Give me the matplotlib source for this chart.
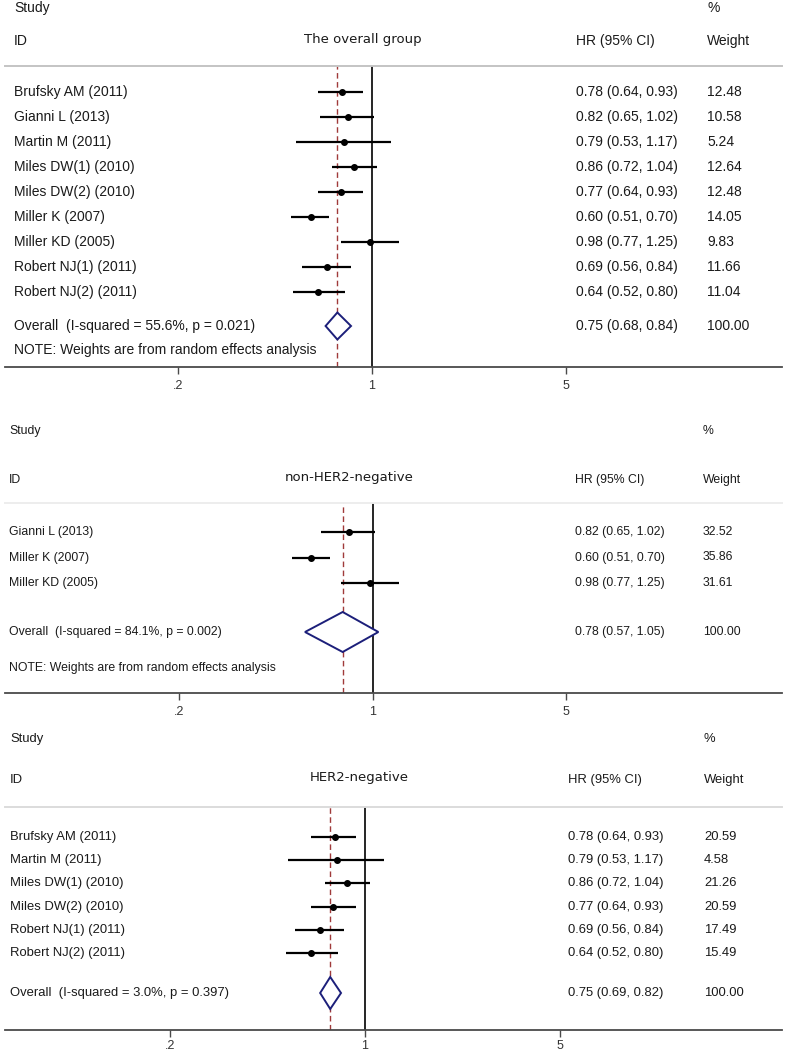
import numpy as np
import matplotlib.pyplot as plt

plt.rcParams['font.family'] = ['Liberation Sans', 'DejaVu Sans']

# ---- data: the overall group
all_studies = ['Brufsky AM (2011)', 'Gianni L (2013)', 'Martin M (2011)',
               'Miles DW(1) (2010)', 'Miles DW(2) (2010)', 'Miller K (2007)',
               'Miller KD (2005)', 'Robert NJ(1) (2011)', 'Robert NJ(2) (2011)']
all_hr = [0.78, 0.82, 0.79, 0.86, 0.77, 0.60, 0.98, 0.69, 0.64]
all_lo = [0.64, 0.65, 0.53, 0.72, 0.64, 0.51, 0.77, 0.56, 0.52]
all_hi = [0.93, 1.02, 1.17, 1.04, 0.93, 0.70, 1.25, 0.84, 0.80]
all_wt = [12.48, 10.58, 5.24, 12.64, 12.48, 14.05, 9.83, 11.66, 11.04]
all_pool = [0.75, 0.68, 0.84]
all_i2 = 55.6
all_p = 0.021

# ---- data: non-HER2-negative
non_studies = ['Gianni L (2013)', 'Miller K (2007)', 'Miller KD (2005)']
non_hr = [0.82, 0.60, 0.98]
non_lo = [0.65, 0.51, 0.77]
non_hi = [1.02, 0.70, 1.25]
non_wt = [32.52, 35.86, 31.61]
non_pool = [0.78, 0.57, 1.05]
non_i2 = 84.1
non_p = 0.002

# ---- data: HER2-negative
neg_studies = ['Brufsky AM (2011)', 'Martin M (2011)', 'Miles DW(1) (2010)',
               'Miles DW(2) (2010)', 'Robert NJ(1) (2011)', 'Robert NJ(2) (2011)']
neg_hr = [0.78, 0.79, 0.86, 0.77, 0.69, 0.64]
neg_lo = [0.64, 0.53, 0.72, 0.64, 0.56, 0.52]
neg_hi = [0.93, 1.17, 1.04, 0.93, 0.84, 0.80]
neg_wt = [20.59, 4.58, 21.26, 20.59, 17.49, 15.49]
neg_pool = [0.75, 0.69, 0.82]
neg_i2 = 3.0
neg_p = 0.397

tick_vals = [0.2, 1, 5]
tick_labels = ['.2', '1', '5']

W, H = 787, 1053
navy = '#1c1f7a'
red = '#a03a3a'
txt = '#1a1a1a'

panels = [
    dict(title='The overall group', studies=all_studies, hr=all_hr, lo=all_lo, hi=all_hi,
         wt=all_wt, pool=all_pool, i2=all_i2, p=all_p,
         fs=10, tfs=9.5, title_x=363, study_y=8, id_y=41, sep=66, axis=367,
         row0=92, step=25, over_y=326, note_y=350, x_lab=14, x_hr=576, x_wt=707,
         null_x=372, dec=277.2, dh=13.5, sep_col='#c4c4c4', pad=4.5),
    dict(title='non-HER2-negative', studies=non_studies, hr=non_hr, lo=non_lo, hi=non_hi,
         wt=non_wt, pool=non_pool, i2=non_i2, p=non_p,
         fs=8.8, tfs=9.5, title_x=349.5, study_y=431, id_y=480, sep=503, axis=693,
         row0=532, step=25.5, over_y=632, note_y=668, x_lab=9, x_hr=575, x_wt=703,
         null_x=372.5, dec=276.5, dh=20, sep_col='#ededed', pad=4.5),
    dict(title='HER2-negative', studies=neg_studies, hr=neg_hr, lo=neg_lo, hi=neg_hi,
         wt=neg_wt, pool=neg_pool, i2=neg_i2, p=neg_p,
         fs=9.4, tfs=9.5, title_x=359.5, study_y=739, id_y=780, sep=807, axis=1030,
         row0=837, step=23.2, over_y=993, note_y=None, x_lab=10, x_hr=568.5, x_wt=704,
         null_x=365, dec=278.3, dh=16, sep_col='#dcdcdc', pad=2),
]

fig = plt.figure(figsize=(W / 100, H / 100), dpi=100)
fig.patch.set_facecolor('white')

# text overlay in pixel coordinates
tx = fig.add_axes([0, 0, 1, 1], zorder=0)
tx.set_xlim(0, W)
tx.set_ylim(H, 0)
tx.axis('off')

for pn in panels:
    fs = pn['fs']
    kw = dict(fontsize=fs, color=txt, va='center', ha='left')
    tx.text(pn['x_lab'], pn['study_y'], 'Study', **kw)
    tx.text(pn['x_wt'], pn['study_y'], '%', **kw)
    tx.text(pn['x_lab'], pn['id_y'], 'ID', **kw)
    tx.text(pn['x_hr'], pn['id_y'], 'HR (95% CI)', **kw)
    tx.text(pn['x_wt'], pn['id_y'], 'Weight', **kw)
    tx.text(pn['title_x'], pn['id_y'] - 2, pn['title'], fontsize=pn['tfs'],
            family='DejaVu Sans', color=txt, ha='center', va='center')

    rows = [pn['row0'] + i * pn['step'] for i in range(len(pn['studies']))]
    for y, s, h, l, u, w in zip(rows, pn['studies'], pn['hr'], pn['lo'], pn['hi'], pn['wt']):
        tx.text(pn['x_lab'], y, s, **kw)
        tx.text(pn['x_hr'], y, f'{h:.2f} ({l:.2f}, {u:.2f})', **kw)
        tx.text(pn['x_wt'], y, f'{w:.2f}', **kw)
    ph, pl, pu = pn['pool']
    tx.text(pn['x_lab'], pn['over_y'],
            f"Overall  (I-squared = {pn['i2']:.1f}%, p = {pn['p']:.3f})", **kw)
    tx.text(pn['x_hr'], pn['over_y'], f'{ph:.2f} ({pl:.2f}, {pu:.2f})', **kw)
    tx.text(pn['x_wt'], pn['over_y'], '100.00', **kw)
    if pn['note_y'] is not None:
        tx.text(pn['x_lab'], pn['note_y'], 'NOTE: Weights are from random effects analysis', **kw)

    # forest axes
    left, right = 5, 782
    ax = fig.add_axes([left / W, 1 - pn['axis'] / H, (right - left) / W,
                       (pn['axis'] - pn['sep']) / H], zorder=1)
    ax.patch.set_alpha(0)
    ax.set_xscale('log')
    ax.set_xlim(10 ** ((left - pn['null_x']) / pn['dec']),
                10 ** ((right - pn['null_x']) / pn['dec']))
    ax.set_ylim(pn['axis'], pn['sep'])
    for side in ['left', 'right']:
        ax.spines[side].set_visible(False)
    ax.spines['top'].set_color(pn['sep_col'])
    ax.spines['top'].set_linewidth(1.4)
    ax.spines['bottom'].set_color('#4a4a4a')
    ax.spines['bottom'].set_linewidth(1.3)
    ax.set_yticks([])
    ax.set_xticks(tick_vals)
    ax.set_xticklabels(tick_labels)
    ax.xaxis.set_minor_locator(plt.NullLocator())
    ax.tick_params(axis='x', length=5, width=1, color='#4a4a4a', pad=pn['pad'],
                   labelsize=9, labelcolor='#333333')

    ax.axvline(1, color='black', lw=1.2, zorder=2)
    ax.axvline(ph, color=red, lw=1.0, ls=(0, (4, 2.5)), zorder=2)

    ax.hlines(rows, pn['lo'], pn['hi'], color='black', lw=1.6, zorder=3)
    ax.plot(pn['hr'], rows, 'o', color='black', ms=4, zorder=4)
    ax.fill([pl, ph, pu, ph], [pn['over_y'], pn['over_y'] - pn['dh'],
                              pn['over_y'], pn['over_y'] + pn['dh']],
            facecolor='white', edgecolor=navy, lw=1.4, zorder=3)

fig.savefig('out.png', dpi=100)
